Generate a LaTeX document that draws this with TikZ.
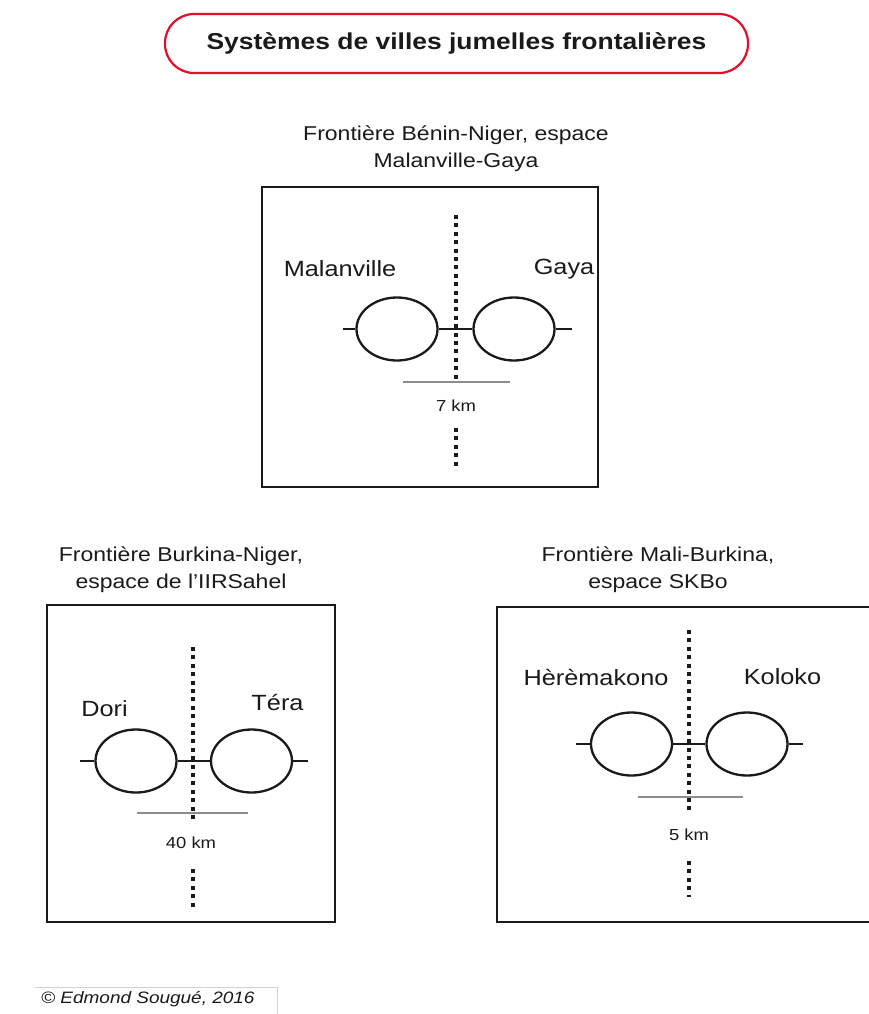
\documentclass[tikz,border=0pt]{standalone}
\usepackage{fontspec}
\setmainfont{Liberation Sans}[FakeStretch=1.15]
\usetikzlibrary{shapes.geometric}
\definecolor{framered}{HTML}{E0102A}
\definecolor{ink}{HTML}{1A1A1A}
\definecolor{scalegray}{HTML}{8C8C8C}
\tikzset{
  panel/.style={draw=ink, line width=2.8pt},
  town/.style={ellipse, draw=ink, line width=2.3pt, minimum width=81pt, minimum height=63pt, inner sep=0pt},
  link/.style={draw=ink, line width=2.3pt},
  border/.style={draw=ink, line width=4pt, dash pattern=on 4pt off 4.4pt},
  scalebar/.style={draw=scalegray, line width=2pt},
  cityname/.style={font=\fontsize{22}{24}\selectfont, text=ink, inner sep=0pt},
  subtitle/.style={font=\fontsize{20}{27}\selectfont, text=ink, align=center, inner sep=0pt},
  dist/.style={font=\fontsize{16}{18}\selectfont, text=ink, inner sep=0pt},
}
\begin{document}
\begin{tikzpicture}[x=1pt,y=-1pt]
\useasboundingbox (0,0) rectangle (869,1014);
\fill[white] (0,0) rectangle (869,1014);

% Title
\node[draw=framered, line width=2.2pt, rounded corners=29pt, minimum width=583pt, minimum height=59pt, inner sep=0pt,
      font=\bfseries\fontsize{23}{25}\selectfont, text=ink] (title) at (456.5,43.5) {Systèmes de villes jumelles frontalières};

% ---------- Top panel ----------
\node[subtitle] (t1) at (456,149) {Frontière Bénin-Niger, espace\\Malanville-Gaya};
\node[panel, minimum width=336pt, minimum height=300pt, inner sep=0pt] (p1) at (430,337) {};
\coordinate (b1a) at (456,215); \coordinate (b1b) at (456,381);
\coordinate (b1c) at (456,428); \coordinate (b1d) at (456,470);
\draw[border] (b1a) -- (b1b);
\draw[border] (b1c) -- (b1d);
\node[town] (m1) at (397,329) {};
\node[town] (g1) at (514,329) {};
\coordinate (l1) at (343,329); \coordinate (r1) at (572,329);
\draw[link] (l1) -- (m1.west);
\draw[link] (m1.east) -- (g1.west);
\draw[link] (g1.east) -- (r1);
\coordinate (s1a) at (403,382); \coordinate (s1b) at (510,382);
\draw[scalebar] (s1a) -- (s1b);
\node[dist] (d1) at (456,406) {7 km};
\node[cityname] (malan) at (340,269) {Malanville};
\node[cityname] (gaya) at (564,269) {Gaya};

% ---------- Bottom-left panel ----------
\node[subtitle] (t2) at (181,570) {Frontière Burkina-Niger,\\espace de l’IIRSahel};
\node[panel, minimum width=288pt, minimum height=317pt, inner sep=0pt] (p2) at (191,763.5) {};
\coordinate (b2a) at (193,647); \coordinate (b2b) at (193,822);
\coordinate (b2c) at (193,869); \coordinate (b2d) at (193,907);
\draw[border] (b2a) -- (b2b);
\draw[border] (b2c) -- (b2d);
\node[town] (dori) at (136,761) {};
\node[town] (tera) at (251.5,761) {};
\coordinate (l2) at (80,761); \coordinate (r2) at (308,761);
\draw[link] (l2) -- (dori.west);
\draw[link] (dori.east) -- (tera.west);
\draw[link] (tera.east) -- (r2);
\coordinate (s2a) at (137,813); \coordinate (s2b) at (248,813);
\draw[scalebar] (s2a) -- (s2b);
\node[dist] (d2) at (191,843) {40 km};
\node[cityname] (doriname) at (104.5,709) {Dori};
\node[cityname] (teraname) at (277.5,702) {Téra};

% ---------- Bottom-right panel ----------
\node[subtitle] (t3) at (658,570) {Frontière Mali-Burkina,\\espace SKBo};
\coordinate (p3a) at (497,607); \coordinate (p3b) at (874,922);
\draw[panel] (p3a) rectangle (p3b);
\coordinate (b3a) at (689,630); \coordinate (b3b) at (689,811);
\coordinate (b3c) at (689,861); \coordinate (b3d) at (689,897);
\draw[border] (b3a) -- (b3b);
\draw[border] (b3c) -- (b3d);
\node[town] (here) at (631.5,744) {};
\node[town] (kolo) at (747,744) {};
\coordinate (l3) at (576,744); \coordinate (r3) at (803,744);
\draw[link] (l3) -- (here.west);
\draw[link] (here.east) -- (kolo.west);
\draw[link] (kolo.east) -- (r3);
\coordinate (s3a) at (638,797); \coordinate (s3b) at (743,797);
\draw[scalebar] (s3a) -- (s3b);
\node[dist] (d3) at (689,835) {5 km};
\node[cityname] (herename) at (596,677) {Hèrèmakono};
\node[cityname] (koloname) at (782.5,677) {Koloko};

% ---------- Footer ----------
\coordinate (f1) at (35,987); \coordinate (f2) at (277,987); \coordinate (f3) at (277,1014);
\draw[black!18, line width=1pt] (f1) -- (f2) -- (f3);
\node[font=\itshape\fontsize{16.5}{18}\selectfont, text=ink, anchor=west, inner sep=0pt] (credit) at (41,999) {© Edmond Sougué, 2016};
\end{tikzpicture}
\end{document}
